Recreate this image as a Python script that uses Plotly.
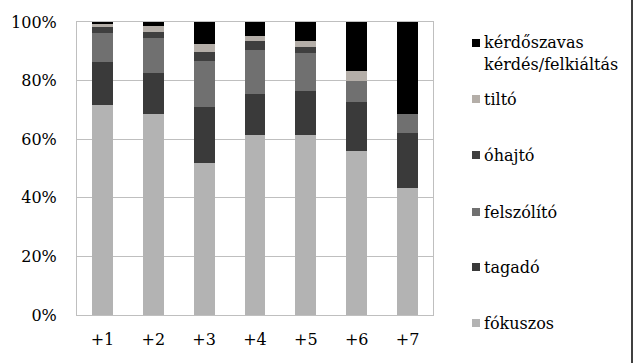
import plotly.graph_objects as go

categories = ["+1", "+2", "+3", "+4", "+5", "+6", "+7"]
series_names = ["fókuszos", "tagadó", "felszólító", "óhajtó", "tiltó",
                "kérdőszavas kérdés/felkiáltás"]
fokuszos = [71.8, 68.7, 52.0, 61.5, 61.5, 56.1, 43.5]
tagado = [14.4, 13.8, 18.9, 14.0, 15.1, 16.5, 18.7]
felszolito = [10.1, 12.2, 15.7, 15.1, 12.9, 7.4, 6.5]
ohajto = [1.9, 2.0, 3.3, 3.0, 2.1, 0.0, 0.0]
tilto = [1.0, 2.1, 2.5, 1.7, 2.0, 3.4, 0.0]
kerdo = [0.8, 1.2, 7.6, 4.7, 6.4, 16.6, 31.3]
tick_vals = [0, 20, 40, 60, 80, 100]
tick_text = ["0%", "20%", "40%", "60%", "80%", "100%"]

legend_lines = [["fókuszos"], ["tagadó"], ["felszólító"], ["óhajtó"], ["tiltó"],
                ["kérdőszavas", "kérdés/felkiáltás"]]

series_values = [fokuszos, tagado, felszolito, ohajto, tilto, kerdo]
colors = ["#B3B3B3", "#3A3A3A", "#707070", "#3F3F3F", "#B4AEA8", "#000000"]

W, H = 638, 363
L, R, T, B = 77, 205, 22, 48
pw, ph = W - L - R, H - T - B

def px_x(p):
    return (p - L) / pw

def px_y(p):
    return (H - B - p) / ph

FAMILY = "DejaVu Serif"
font = dict(family=FAMILY, size=16, color="#000000")

fig = go.Figure()
for name, vals, col in zip(series_names, series_values, colors):
    fig.add_trace(go.Bar(x=categories, y=vals, name=name, marker_color=col,
                         marker_line_width=0, showlegend=False))

legend_y = [323, 267, 212, 155, 99, 43]
shapes = []
annotations = []
for lines, col, yc in zip(legend_lines, colors, legend_y):
    shapes.append(dict(type="rect", xref="paper", yref="paper",
                       x0=px_x(472), x1=px_x(480), y0=px_y(yc + 4), y1=px_y(yc - 4),
                       fillcolor=col, line=dict(width=0)))
    for k, line in enumerate(lines):
        annotations.append(dict(text=line, xref="paper", yref="paper",
                                x=px_x(482), y=px_y(yc + 22 * k),
                                xanchor="left", yanchor="middle",
                                showarrow=False, font=font))

shapes.append(dict(type="line", xref="paper", yref="paper",
                   x0=px_x(632), x1=px_x(632), y0=px_y(H), y1=px_y(0),
                   line=dict(color="#000000", width=1.5)))

fig.update_layout(
    width=W, height=H, barmode="stack", bargap=0.59,
    margin=dict(l=L, r=R, t=T, b=B),
    paper_bgcolor="white", plot_bgcolor="white",
    font=font, showlegend=False,
    yaxis=dict(range=[0, 100], tickvals=tick_vals, ticktext=tick_text,
               showgrid=True, gridcolor="#BFBFBF", gridwidth=1,
               showline=True, linecolor="#BFBFBF", linewidth=1, mirror=True,
               ticks="outside", ticklen=16, tickcolor="rgba(0,0,0,0)",
               zeroline=False, tickfont=font),
    xaxis=dict(showline=True, linecolor="#BFBFBF", linewidth=1, mirror=True,
               ticks="outside", ticklen=10, tickcolor="rgba(0,0,0,0)",
               tickfont=font),
    shapes=shapes,
    annotations=annotations,
)

fig.write_html("out.html", config={"displayModeBar": False},
               post_script="document.body.style.margin='0';document.body.style.padding='0';")
